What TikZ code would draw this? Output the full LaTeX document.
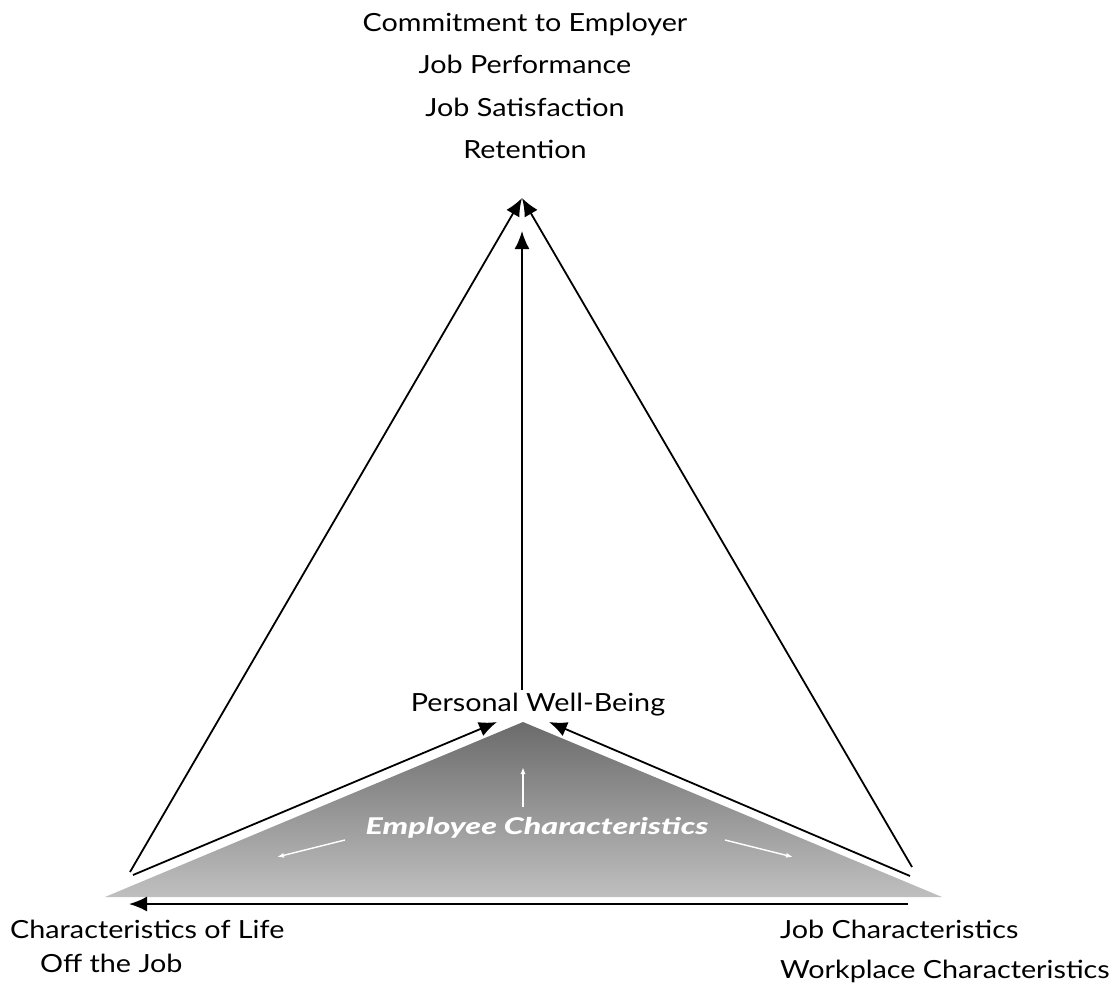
\documentclass[tikz,border=0pt]{standalone}
\usepackage{fontspec}
\setmainfont{Lato}[FakeStretch=1.15]
\newfontfamily\empfont{Lato Black}[FakeStretch=1.4]
\usetikzlibrary{arrows.meta}
\begin{document}
\begin{tikzpicture}[x=1pt,y=-1pt,
  lbl/.style={inner sep=0pt, font=\fontsize{25}{42.5}\selectfont, text=black},
  arr/.style={line width=1.8pt, -{Latex[length=18pt,width=15pt]}},
  warr/.style={white, line width=1.4pt, -{Latex[length=7pt,width=5pt]}}]
\useasboundingbox (0,0) rectangle (1119,989);
% shaded base triangle
\shade[top color=black!58, bottom color=black!25, shading angle=0]
  (523,722) -- (942,897) -- (105,897) -- cycle;
% coordinates
\coordinate (ap) at (522,198);
\coordinate (lft) at (130,872);
\coordinate (rgt) at (912,867);
\coordinate (lft2) at (133,875);
\coordinate (rgt2) at (910,876);
\coordinate (pwl) at (497,722);
\coordinate (pwr) at (549,722);
\coordinate (midtip) at (522,231);
\coordinate (botr) at (908,904);
\coordinate (botl) at (129,904);
% labels
\node[lbl, align=center] (outc) at (525,86)
  {Commitment to Employer\\Job Performance\\Job Satisfaction\\Retention};
\node[lbl] (pwb) at (538,705) {Personal Well-Being};
\node[lbl, anchor=west] (life) at (10,929) {Characteristics of Life};
\node[lbl, anchor=west] (off) at (40,963) {Off the Job};
\node[lbl, anchor=west] (job) at (780,929) {Job Characteristics};
\node[lbl, anchor=west] (work) at (780,971) {Workplace Characteristics};
\node[inner sep=0pt, text=white, font=\empfont\fontsize{23}{23}\selectfont\itshape] (emp) at (537,828)
  {Employee Characteristics};
% arrows
\draw[arr] (lft) -- (ap);
\draw[arr] (rgt) -- (ap);
\draw[arr] (522,690) -- (midtip);
\draw[arr] (lft2) -- (pwl);
\draw[arr] (rgt2) -- (pwr);
\draw[arr] (botr) -- (botl);
% white arrows inside triangle
\coordinate (wu1) at (523,807);
\coordinate (wu2) at (523,767);
\coordinate (wl1) at (345,840);
\coordinate (wl2) at (277,857);
\coordinate (wr1) at (725,840);
\coordinate (wr2) at (793,857);
\draw[warr] (wu1) -- (wu2);
\draw[warr] (wl1) -- (wl2);
\draw[warr] (wr1) -- (wr2);
\end{tikzpicture}
\end{document}
